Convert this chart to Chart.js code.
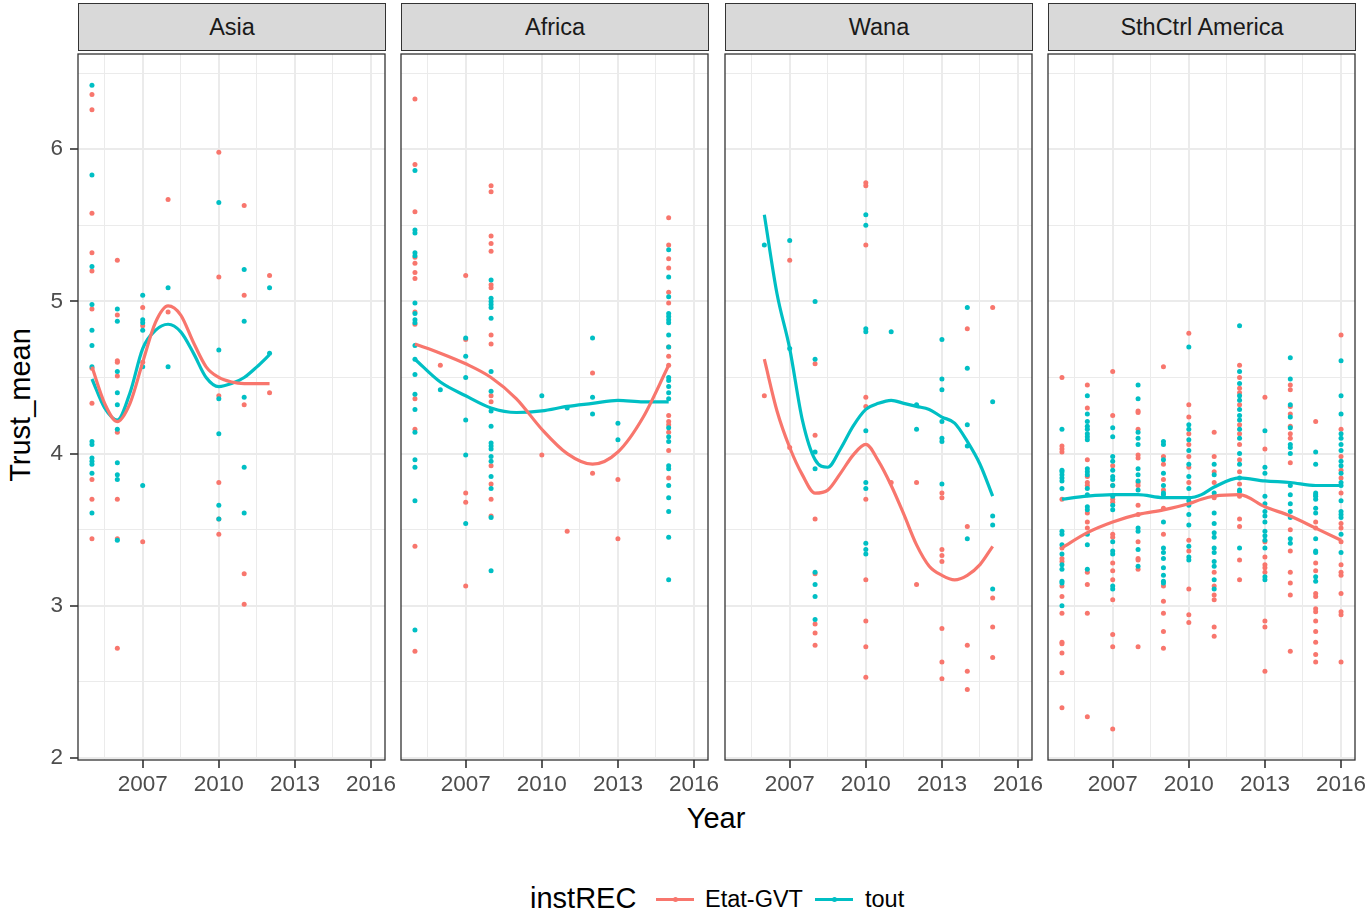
<!DOCTYPE html>
<html>
<head>
<meta charset="utf-8">
<title>Trust_mean by region</title>
<script src="https://cdn.jsdelivr.net/npm/chart.js@4.4.0/dist/chart.umd.min.js"></script>
<style>
  body { margin: 0; background: #fff; font-family: "Liberation Sans", Arial, sans-serif; }
  #wrap { position: relative; width: 1370px; height: 914px; overflow: hidden; }
  #wrap canvas { position: absolute; }
  .strip {
    position: absolute; top: 3px; height: 48px; box-sizing: border-box;
    background: #d9d9d9; border: 1.3px solid #333;
    text-align: center; line-height: 46px; font-size: 23.5px; color: #1a1a1a;
  }
  .axis-title { position: absolute; font-size: 29px; color: #000; white-space: nowrap; }
  .legend-text { position: absolute; white-space: nowrap; color: #000; }
  .key { position: absolute; width: 38px; height: 3px; top: 897.5px; }
  .key span { position: absolute; left: 16.5px; top: -1px; width: 5px; height: 5px; border-radius: 50%; }
</style>
</head>
<body>
<div id="wrap">
  <div class="axis-title" style="left:20px; top:405px; transform: translate(-50%, -50%) rotate(-90deg);">Trust_mean</div>
  <div class="axis-title" style="left:716px; top:818px; transform: translate(-50%, -50%);">Year</div>

  <div class="legend-text" style="left:530px; top:882px; font-size:29px;">instREC</div>
  <div class="key" style="left:656px; background:#F8766D;"><span style="background:#F8766D;"></span></div>
  <div class="legend-text" style="left:705px; top:886px; font-size:23.5px;">Etat-GVT</div>
  <div class="key" style="left:815px; background:#00BFC4;"><span style="background:#00BFC4;"></span></div>
  <div class="legend-text" style="left:865px; top:886px; font-size:23.5px;">tout</div>
</div>

<script>
// facets and series
const regions = ['Asia', 'Africa', 'Wana', 'SthCtrl America'];
const seriesNames = ['Etat-GVT', 'tout'];
const seriesColors = ['#F8766D', '#00BFC4'];

// axis ticks
const xTicks = [2007, 2010, 2013, 2016];
const yTicks = [2, 3, 4, 5, 6];

// ---- Asia ----
const asiaGovPts = [
  [2005, [6.36, 6.26, 5.58, 5.32, 5.20, 4.95, 4.56, 4.33, 3.83, 3.70, 3.44]],
  [2006, [5.27, 4.91, 4.61, 4.60, 4.51, 4.14, 3.70, 3.44, 2.72]],
  [2007, [4.96, 4.84, 4.60, 3.42]],
  [2008, [5.67, 4.93]],
  [2010, [5.98, 5.16, 4.38, 3.81, 3.57, 3.47]],
  [2011, [5.63, 5.04, 4.32, 3.21, 3.01]],
  [2012, [5.17, 4.40]]
];
const asiaToutPts = [
  [2005, [6.42, 5.83, 5.23, 4.98, 4.81, 4.71, 4.57, 4.08, 4.06, 3.97, 3.95, 3.93, 3.87, 3.61]],
  [2006, [4.95, 4.87, 4.54, 4.40, 4.32, 4.16, 3.94, 3.86, 3.83, 3.43]],
  [2007, [5.04, 4.88, 4.86, 4.81, 4.57, 3.79]],
  [2008, [5.09, 4.57]],
  [2010, [5.65, 4.68, 4.36, 4.13, 3.66, 3.57]],
  [2011, [5.21, 4.87, 4.37, 3.91, 3.61]],
  [2012, [5.09, 4.66]]
];
const asiaSmoothYears = [2005, 2005.5, 2006, 2006.5, 2007, 2007.5, 2008, 2008.5, 2009, 2009.5, 2010, 2010.5, 2011, 2011.5, 2012];
const asiaGovSmooth  = [4.57, 4.33, 4.21, 4.33, 4.60, 4.86, 4.97, 4.91, 4.73, 4.57, 4.50, 4.47, 4.46, 4.46, 4.46];
const asiaToutSmooth = [4.49, 4.30, 4.22, 4.40, 4.69, 4.81, 4.85, 4.80, 4.66, 4.50, 4.44, 4.46, 4.50, 4.57, 4.65];

// ---- Africa ----
const africaGovPts = [
  [2005, [6.33, 5.90, 5.59, 5.29, 5.25, 5.19, 5.15, 4.93, 4.85, 4.36, 4.16, 3.39, 2.70]],
  [2006, [4.58]],
  [2007, [5.17, 4.75, 3.74, 3.68, 3.13]],
  [2008, [5.76, 5.72, 5.43, 5.38, 5.33, 5.11, 5.09, 4.78, 4.72, 4.38, 4.34, 3.92, 3.80, 3.70, 3.59]],
  [2010, [3.99]],
  [2011, [3.49]],
  [2012, [4.53, 3.87]],
  [2013, [3.83, 3.44]],
  [2015, [5.55, 5.37, 5.28, 5.22, 5.06, 4.99, 4.70, 4.64, 4.58, 4.25, 4.21, 4.19, 4.14, 4.02, 3.84]]
];
const africaToutPts = [
  [2005, [5.86, 5.47, 5.45, 5.32, 5.30, 4.99, 4.92, 4.88, 4.86, 4.71, 4.62, 4.52, 4.39, 4.29, 4.14, 3.96, 3.91, 3.69, 2.84]],
  [2006, [4.42]],
  [2007, [4.76, 4.64, 4.50, 4.22, 3.99, 3.54]],
  [2008, [5.14, 5.02, 5.00, 4.98, 4.96, 4.89, 4.54, 4.41, 4.28, 4.18, 4.07, 4.05, 4.03, 3.98, 3.95, 3.85, 3.77, 3.58, 3.23]],
  [2010, [4.38]],
  [2011, [4.30]],
  [2012, [4.76, 4.37, 4.26]],
  [2013, [4.20, 4.09]],
  [2015, [5.34, 5.16, 5.03, 4.92, 4.90, 4.88, 4.86, 4.78, 4.70, 4.50, 4.48, 4.44, 4.40, 4.36, 4.17, 4.11, 4.08, 3.92, 3.90, 3.79, 3.71, 3.62, 3.45, 3.17]]
];
const africaSmoothYears = [2005, 2006, 2007, 2008, 2009, 2010, 2011, 2012, 2013, 2014, 2015];
const africaGovSmooth  = [4.72, 4.66, 4.59, 4.50, 4.36, 4.16, 4.00, 3.93, 4.01, 4.24, 4.58];
const africaToutSmooth = [4.62, 4.47, 4.38, 4.30, 4.27, 4.28, 4.31, 4.33, 4.35, 4.34, 4.34];

// ---- Wana ----
const wanaGovPts = [
  [2006, [4.38]],
  [2007, [5.27, 4.04]],
  [2008, [4.59, 4.12, 3.57, 3.21, 2.88, 2.82, 2.74]],
  [2010, [5.78, 5.76, 5.37, 4.37, 4.31, 3.70, 3.17, 2.90, 2.73, 2.53]],
  [2011, [3.81]],
  [2012, [3.81, 3.14]],
  [2013, [3.74, 3.71, 3.37, 3.33, 3.29, 2.85, 2.63, 2.52]],
  [2014, [4.82, 3.52, 2.74, 2.57, 2.45]],
  [2015, [4.96, 3.05, 2.86, 2.66]]
];
const wanaToutPts = [
  [2006, [5.37]],
  [2007, [5.40, 4.69]],
  [2008, [5.00, 4.62, 4.01, 3.90, 3.22, 3.14, 3.06, 2.91]],
  [2010, [5.57, 5.50, 4.82, 4.80, 4.15, 3.81, 3.77, 3.41, 3.37, 3.34]],
  [2011, [4.80]],
  [2012, [4.32, 4.16]],
  [2013, [4.75, 4.49, 4.42, 4.21, 4.10, 4.08, 3.80]],
  [2014, [4.96, 4.56, 4.19, 4.05, 3.44]],
  [2015, [4.34, 3.59, 3.53, 3.11]]
];
const wanaSmoothYears = [2006, 2006.5, 2007, 2007.5, 2008, 2008.5, 2009, 2009.5, 2010, 2010.5, 2011, 2011.5, 2012, 2012.5, 2013, 2013.5, 2014, 2014.5, 2015];
const wanaGovSmooth  = [4.62, 4.28, 4.04, 3.86, 3.74, 3.76, 3.87, 3.99, 4.06, 3.95, 3.79, 3.60, 3.40, 3.26, 3.20, 3.17, 3.20, 3.27, 3.39];
const wanaToutSmooth = [5.57, 5.05, 4.69, 4.22, 3.96, 3.91, 4.03, 4.18, 4.29, 4.33, 4.35, 4.33, 4.31, 4.29, 4.24, 4.20, 4.08, 3.93, 3.72];

// ---- SthCtrl America ----
const americaGovPts = [
  [2005, [4.50, 4.05, 4.03, 4.01, 3.70, 3.38, 3.31, 3.29, 3.13, 3.06, 2.95, 2.76, 2.75, 2.69, 2.56, 2.33]],
  [2006, [4.45, 4.30, 3.96, 3.85, 3.81, 3.79, 3.61, 3.55, 3.51, 3.22, 3.14, 2.95, 2.27]],
  [2007, [4.54, 4.25, 3.92, 3.79, 3.70, 3.68, 3.47, 3.45, 3.28, 3.23, 3.17, 3.04, 2.81, 2.73, 2.19]],
  [2008, [4.28, 4.27, 4.16, 3.99, 3.97, 3.81, 3.79, 3.66, 3.60, 3.42, 3.31, 3.30, 3.24, 2.73]],
  [2009, [4.57, 3.98, 3.93, 3.83, 3.76, 3.64, 3.47, 3.13, 3.03, 2.95, 2.83, 2.72]],
  [2010, [4.79, 4.32, 4.24, 4.13, 4.06, 3.98, 3.91, 3.81, 3.43, 3.36, 3.11, 2.94, 2.89]],
  [2011, [4.14, 3.98, 3.88, 3.81, 3.71, 3.22, 3.13, 3.07, 3.04, 2.86, 2.80]],
  [2012, [4.58, 4.50, 4.43, 4.40, 4.32, 4.19, 4.13, 4.06, 3.96, 3.88, 3.80, 3.72, 3.57, 3.52, 3.30, 3.17]],
  [2013, [4.37, 4.03, 3.42, 3.32, 3.27, 3.25, 3.22, 2.90, 2.86, 2.57]],
  [2014, [4.45, 4.42, 4.31, 4.26, 4.18, 4.13, 4.10, 3.94, 3.50, 3.36, 3.22, 3.15, 3.07, 2.70]],
  [2015, [4.21, 3.55, 3.51, 3.28, 3.23, 3.08, 3.06, 2.98, 2.96, 2.90, 2.83, 2.76, 2.68, 2.63]],
  [2016, [4.78, 4.16, 3.98, 3.89, 3.84, 3.74, 3.54, 3.51, 3.42, 3.27, 3.22, 3.20, 3.08, 2.96, 2.94, 2.63]]
];
const americaToutPts = [
  [2005, [4.16, 3.89, 3.88, 3.86, 3.84, 3.82, 3.77, 3.49, 3.47, 3.40, 3.34, 3.27, 3.24, 3.16, 3.15, 3.00]],
  [2006, [4.38, 4.26, 4.21, 4.18, 4.16, 4.13, 4.11, 4.09, 3.90, 3.88, 3.86, 3.77, 3.73, 3.65, 3.63, 3.47, 3.40, 3.24]],
  [2007, [4.17, 4.11, 3.98, 3.95, 3.89, 3.85, 3.83, 3.79, 3.72, 3.66, 3.63, 3.42, 3.36, 3.34, 3.13, 3.11]],
  [2008, [4.45, 4.36, 4.14, 4.10, 4.06, 3.90, 3.86, 3.82, 3.76, 3.51, 3.49, 3.37, 3.26]],
  [2009, [4.08, 4.06, 3.96, 3.87, 3.79, 3.74, 3.73, 3.55, 3.38, 3.35, 3.31, 3.25, 3.20, 3.16, 3.15]],
  [2010, [4.70, 4.19, 4.16, 4.09, 4.02, 3.93, 3.85, 3.77, 3.69, 3.66, 3.60, 3.53, 3.39, 3.32, 3.30]],
  [2011, [3.93, 3.86, 3.74, 3.61, 3.54, 3.48, 3.45, 3.38, 3.35, 3.29, 3.26, 3.17, 3.11]],
  [2012, [4.84, 4.54, 4.46, 4.38, 4.35, 4.29, 4.25, 4.22, 4.16, 4.10, 4.00, 3.93, 3.84, 3.76, 3.75, 3.38]],
  [2013, [4.15, 3.91, 3.87, 3.72, 3.67, 3.62, 3.59, 3.55, 3.49, 3.46, 3.43, 3.38, 3.19, 3.17]],
  [2014, [4.63, 4.49, 4.32, 4.24, 4.17, 4.06, 4.04, 4.00, 3.79, 3.73, 3.67, 3.62, 3.58, 3.44, 3.41]],
  [2015, [4.01, 3.93, 3.74, 3.73, 3.72, 3.70, 3.64, 3.61, 3.44, 3.36, 3.35, 3.19, 3.16]],
  [2016, [4.61, 4.38, 4.26, 4.13, 4.10, 4.06, 4.02, 3.95, 3.92, 3.87, 3.81, 3.79, 3.69, 3.62, 3.60, 3.58, 3.47, 3.35]]
];
const americaSmoothYears = [2005, 2006, 2007, 2008, 2009, 2010, 2010.5, 2011, 2012, 2013, 2014, 2015, 2016];
const americaGovSmooth  = [3.38, 3.48, 3.55, 3.60, 3.63, 3.67, 3.70, 3.72, 3.73, 3.65, 3.59, 3.51, 3.43];
const americaToutSmooth = [3.70, 3.72, 3.73, 3.73, 3.71, 3.71, 3.73, 3.78, 3.84, 3.82, 3.81, 3.79, 3.79];

// ---- layout ----
const PANEL_LEFT = [78, 401, 725, 1048];
const PANEL_TOP = 50, PANEL_W = 307, PANEL_H = 710;
const AXIS_W = 78, AXIS_H = 50, RIGHT_PAD = 40;
const X_MIN = 2004.45, X_MAX = 2016.55;
const Y_MIN = 1.986, Y_MAX = 6.626;
const FONT = '"Liberation Sans", Arial, sans-serif';
const CLEAR = 'rgba(0,0,0,0)';

const xGrid = [...xTicks.map(v => v - 1.5), ...xTicks].sort((a, b) => a - b);
const yGrid = [...yTicks, ...yTicks.map(v => v + 0.5)].sort((a, b) => a - b);

const panelData = [
  [asiaGovPts, asiaToutPts, asiaSmoothYears, asiaGovSmooth, asiaToutSmooth],
  [africaGovPts, africaToutPts, africaSmoothYears, africaGovSmooth, africaToutSmooth],
  [wanaGovPts, wanaToutPts, wanaSmoothYears, wanaGovSmooth, wanaToutSmooth],
  [americaGovPts, americaToutPts, americaSmoothYears, americaGovSmooth, americaToutSmooth]
];

const toPoints = rows => rows.flatMap(([yr, vals]) => vals.map(v => ({ x: yr, y: v })));
const toLine = (xs, ys) => xs.map((x, i) => ({ x, y: ys[i] }));

// full frame around each panel, drawn over grid and marks
const panelBorder = {
  id: 'panelBorder',
  afterDraw(chart) {
    const { ctx, chartArea: a } = chart;
    ctx.save();
    ctx.strokeStyle = '#333';
    ctx.lineWidth = 1.3;
    ctx.strokeRect(a.left, a.top, a.right - a.left, a.bottom - a.top);
    ctx.restore();
  }
};

const wrap = document.getElementById('wrap');

regions.forEach((region, i) => {
  const [govPts, toutPts, smYears, govSm, toutSm] = panelData[i];
  // every panel keeps the same y-axis box so the plot areas line up;
  // only the first one shows its labels and tick marks
  const showY = i === 0;

  const strip = document.createElement('div');
  strip.className = 'strip';
  strip.style.left = PANEL_LEFT[i] + 'px';
  strip.style.width = (PANEL_W + 1) + 'px';
  strip.textContent = region;
  wrap.appendChild(strip);

  const canvas = document.createElement('canvas');
  canvas.width = AXIS_W + PANEL_W + RIGHT_PAD;
  canvas.height = PANEL_H + AXIS_H;
  canvas.style.left = (PANEL_LEFT[i] - AXIS_W) + 'px';
  canvas.style.top = PANEL_TOP + 'px';
  wrap.appendChild(canvas);

  const isMajorX = v => xTicks.includes(v);
  const isMajorY = v => yTicks.includes(v);

  new Chart(canvas.getContext('2d'), {
    type: 'scatter',
    data: {
      datasets: [
        {
          type: 'line', label: seriesNames[0], data: toLine(smYears, govSm),
          borderColor: seriesColors[0], borderWidth: 3.2, pointRadius: 0,
          cubicInterpolationMode: 'monotone', fill: false, order: 0
        },
        {
          type: 'line', label: seriesNames[1], data: toLine(smYears, toutSm),
          borderColor: seriesColors[1], borderWidth: 3.2, pointRadius: 0,
          cubicInterpolationMode: 'monotone', fill: false, order: 0
        },
        {
          label: seriesNames[1], data: toPoints(toutPts),
          backgroundColor: seriesColors[1], borderWidth: 0, pointRadius: 2.5, order: 1
        },
        {
          label: seriesNames[0], data: toPoints(govPts),
          backgroundColor: seriesColors[0], borderWidth: 0, pointRadius: 2.5, order: 2
        }
      ]
    },
    options: {
      responsive: false,
      devicePixelRatio: 1,
      animation: false,
      layout: { padding: { left: 0, top: 0, right: RIGHT_PAD, bottom: 0 } },
      plugins: { legend: { display: false }, tooltip: { enabled: false } },
      scales: {
        x: {
          type: 'linear', min: X_MIN, max: X_MAX,
          afterBuildTicks: s => { s.ticks = xGrid.map(v => ({ value: v })); },
          afterFit: s => { s.height = AXIS_H; s.paddingLeft = 0; s.paddingRight = 0; },
          ticks: {
            autoSkip: false, maxRotation: 0, padding: 3,
            color: '#4d4d4d', font: { family: FONT, size: 22.5 },
            callback: v => isMajorX(v) ? String(v) : ''
          },
          grid: {
            color: '#ebebeb',
            lineWidth: c => isMajorX(c.tick.value) ? 2 : 1,
            tickLength: 8, tickWidth: 1.6,
            tickColor: c => isMajorX(c.tick.value) ? '#333' : CLEAR
          },
          border: { display: false }
        },
        y: {
          type: 'linear', min: Y_MIN, max: Y_MAX,
          afterBuildTicks: s => { s.ticks = yGrid.map(v => ({ value: v })); },
          afterFit: s => { s.width = AXIS_W; s.paddingTop = 0; s.paddingBottom = 0; },
          ticks: {
            autoSkip: false, padding: 7,
            color: showY ? '#4d4d4d' : CLEAR, font: { family: FONT, size: 22.5 },
            callback: v => isMajorY(v) ? String(v) : ''
          },
          grid: {
            color: '#ebebeb',
            lineWidth: c => isMajorY(c.tick.value) ? 2 : 1,
            tickLength: 8, tickWidth: 1.6,
            tickColor: c => (showY && isMajorY(c.tick.value)) ? '#333' : CLEAR
          },
          border: { display: false }
        }
      }
    },
    plugins: [panelBorder]
  });
});
</script>
</body>
</html>
